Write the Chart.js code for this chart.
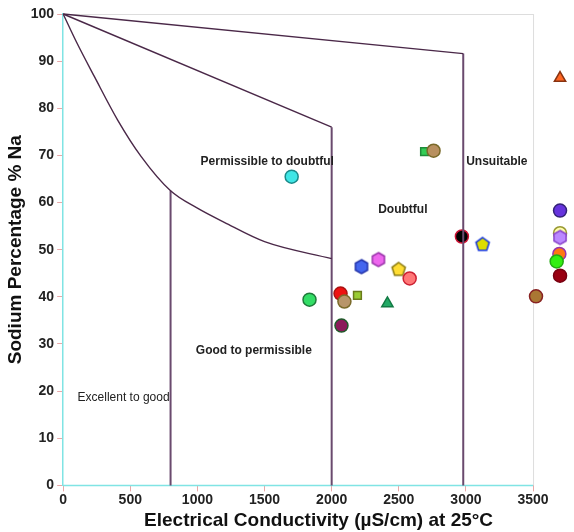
<!DOCTYPE html>
<html>
<head>
<meta charset="utf-8">
<script src="https://cdn.jsdelivr.net/npm/chart.js@4/dist/chart.umd.min.js"></script>
<style>
  body { margin: 0; background: #fff; }
</style>
</head>
<body>
<canvas id="wilcox" width="574" height="532"></canvas>
<script>
// Muestras: conductividad eléctrica (µS/cm) y % Na
var ecValues = [1702, 1835, 2066, 2095, 2192, 2415, 2073, 2222, 2348, 2499, 2581, 2692, 2759, 2970, 3124, 3522, 3701, 3701, 3701, 3696, 3676, 3701, 3701];
var naValues = [65.5, 39.4, 40.7, 39.0, 40.3, 38.6, 33.9, 46.4, 47.9, 45.8, 43.9, 70.8, 71.0, 52.8, 51.1, 40.1, 58.3, 53.5, 52.6, 49.1, 47.5, 44.5, 86.4];
var markerShapes = ['circle', 'circle', 'circle', 'circle', 'rect', 'triangle', 'circle', 'hexagon', 'hexagon', 'pentagon', 'circle', 'rect', 'circle', 'circle', 'pentagon', 'circle', 'circle', 'circle', 'hexagon', 'circle', 'circle', 'circle', 'triangle'];
var fillColors = ['#3fe6e6', '#33dd66', '#ee1111', '#b8956a', '#99cc33', '#22aa66', '#8b1a5a', '#4466ee', '#ee66ee', '#ffdd33', '#ff7777', '#33cc55', '#b89060', '#000000', '#dddd00', '#aa7733', '#6633dd', '#ffffaa', '#bb88ff', '#ff7711', '#33ee11', '#990011', '#ff6622'];
var edgeColors = ['#1a8a8a', '#1f7a3a', '#aa1111', '#7a6a2a', '#6a7a1a', '#137a44', '#1f5a2a', '#2233aa', '#9933aa', '#8a7a10', '#cc2233', '#1f8a3a', '#7a6a2a', '#cc1133', '#1133dd', '#882222', '#332277', '#999933', '#8844cc', '#9933aa', '#22aa11', '#770011', '#883311'];

// Límites de las zonas del diagrama de Wilcox
var excellentCurve = [[0, 100], [100, 94], [233, 86.7], [406, 77.5], [580, 69.8], [800, 62.5], [1000, 58.8], [1200, 55.8], [1500, 51.7], [2000, 48.1]];
var permissibleLine = [[0, 100], [2000, 76]];
var doubtfulLine = [[0, 100], [2980, 91.6]];
var verticalLines = [[800, 62.5], [2000, 76], [2980, 91.6]];

var xTicks = [0, 500, 1000, 1500, 2000, 2500, 3000, 3500];
var yTicks = [0, 10, 20, 30, 40, 50, 60, 70, 80, 90, 100];
var xAxisEnd = 3500;

var zoneFont = 'bold 12px "Liberation Sans", Arial, sans-serif';
var zoneLabels = [
    { text: 'Permissible to doubtful', x: 1520, y: 68.6, font: zoneFont },
    { text: 'Doubtful', x: 2530, y: 58.5, font: zoneFont },
    { text: 'Unsuitable', x: 3230, y: 68.6, font: zoneFont },
    { text: 'Good to permissible', x: 1420, y: 28.6, font: zoneFont },
    { text: 'Excellent to good', x: 450, y: 18.6, font: '12px "Liberation Sans", Arial, sans-serif' }
];

function toPoints(arr) {
    return arr.map(function (p) { return { x: p[0], y: p[1] }; });
}

// Marcadores poligonales que Chart.js no trae
function polygonMarker(sides, fill, stroke, radius) {
    var size = radius * 2 + 4;
    var c = document.createElement('canvas');
    c.width = size; c.height = size;
    var g = c.getContext('2d');
    g.beginPath();
    for (var i = 0; i < sides; i++) {
        var a = -Math.PI / 2 + i * 2 * Math.PI / sides;
        var px = size / 2 + radius * Math.cos(a);
        var py = size / 2 + radius * Math.sin(a);
        if (i === 0) g.moveTo(px, py); else g.lineTo(px, py);
    }
    g.closePath();
    g.fillStyle = fill;
    g.fill();
    g.lineWidth = 1.5;
    g.strokeStyle = stroke;
    g.stroke();
    return c;
}

var pointStyles = markerShapes.map(function (s, i) {
    if (s === 'hexagon') return polygonMarker(6, fillColors[i], edgeColors[i], 7);
    if (s === 'pentagon') return polygonMarker(5, fillColors[i], edgeColors[i], 7);
    return s;
});
var pointRadii = markerShapes.map(function (s) {
    return s === 'rect' ? 5.5 : 6.5;
});

var samples = ecValues.map(function (v, i) { return { x: v, y: naValues[i] }; });

var lineStyle = { type: 'scatter', showLine: true, pointRadius: 0, borderColor: '#4a2848', borderWidth: 1.4, fill: false, clip: false };

var datasets = [
    Object.assign({}, lineStyle, { data: toPoints(excellentCurve), cubicInterpolationMode: 'monotone' }),
    Object.assign({}, lineStyle, { data: toPoints(permissibleLine) }),
    Object.assign({}, lineStyle, { data: toPoints(doubtfulLine) })
];
verticalLines.forEach(function (v) {
    datasets.push(Object.assign({}, lineStyle, {
        data: [{ x: v[0], y: 0 }, { x: v[0], y: v[1] }],
        borderColor: '#6a4a6e', borderWidth: 2
    }));
});
datasets.push({
    type: 'scatter',
    data: samples,
    pointStyle: pointStyles,
    pointRadius: pointRadii,
    pointBackgroundColor: fillColors,
    pointBorderColor: edgeColors,
    pointBorderWidth: 1.5,
    clip: false
});

// Eje X cian hasta 3500, marco gris arriba/derecha y textos de las zonas
var framePlugin = {
    id: 'frameAndZones',
    beforeDatasetsDraw: function (chart) {
        var ctx = chart.ctx, a = chart.chartArea;
        var xEnd = chart.scales.x.getPixelForValue(xAxisEnd);
        ctx.save();
        ctx.lineWidth = 1;
        ctx.strokeStyle = '#dddddd';
        ctx.beginPath();
        ctx.moveTo(a.left, a.top + 0.5);
        ctx.lineTo(xEnd, a.top + 0.5);
        ctx.moveTo(xEnd + 0.5, a.top);
        ctx.lineTo(xEnd + 0.5, a.bottom);
        ctx.stroke();
        ctx.lineWidth = 1.5;
        ctx.strokeStyle = '#80e4e4';
        ctx.beginPath();
        ctx.moveTo(a.left, a.bottom);
        ctx.lineTo(xEnd, a.bottom);
        ctx.stroke();
        ctx.restore();
    },
    afterDatasetsDraw: function (chart) {
        var ctx = chart.ctx;
        var xs = chart.scales.x, ys = chart.scales.y;
        ctx.save();
        ctx.fillStyle = '#222';
        ctx.textAlign = 'center';
        ctx.textBaseline = 'middle';
        zoneLabels.forEach(function (l) {
            ctx.font = l.font;
            ctx.fillText(l.text, xs.getPixelForValue(l.x), ys.getPixelForValue(l.y));
        });
        ctx.restore();
    }
};

var tickFont = { family: '"Liberation Sans", Arial, sans-serif', size: 14, weight: 'bold' };

new Chart(document.getElementById('wilcox'), {
    type: 'scatter',
    data: { datasets: datasets },
    plugins: [framePlugin],
    options: {
        responsive: false,
        animation: false,
        layout: { autoPadding: false, padding: { top: 14, right: 0, left: 4, bottom: 0 } },
        plugins: {
            legend: { display: false },
            tooltip: { enabled: false }
        },
        scales: {
            x: {
                type: 'linear',
                min: 0, max: 3805,
                afterBuildTicks: function (s) { s.ticks = xTicks.map(function (v) { return { value: v }; }); },
                border: { display: false },
                grid: { drawOnChartArea: false, color: '#e8a8a8', tickLength: 6 },
                ticks: { color: '#222', font: tickFont, padding: 0, maxRotation: 0, callback: function (v) { return String(v); } },
                title: { display: true, text: 'Electrical Conductivity (µS/cm) at 25°C', color: '#111', font: { family: '"Liberation Sans", Arial, sans-serif', size: 19, weight: 'bold' }, padding: { top: 1, bottom: 0 } }
            },
            y: {
                type: 'linear',
                min: 0, max: 100,
                afterBuildTicks: function (s) { s.ticks = yTicks.map(function (v) { return { value: v }; }); },
                border: { color: '#80e4e4', width: 1.5 },
                grid: { drawOnChartArea: false, color: '#e8a8a8', tickLength: 6 },
                ticks: { color: '#222', font: tickFont, padding: 3 },
                title: { display: true, text: 'Sodium Percentage % Na', color: '#111', font: { family: '"Liberation Sans", Arial, sans-serif', size: 19, weight: 'bold' }, padding: { top: 0, bottom: 1 } }
            }
        }
    }
});
</script>
</body>
</html>
